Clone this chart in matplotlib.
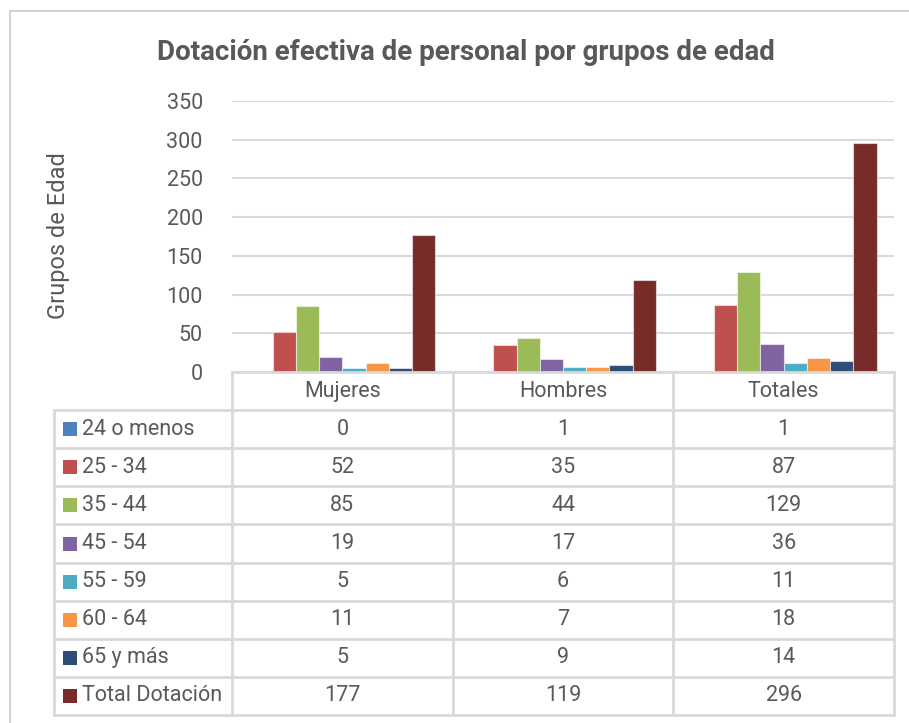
import matplotlib
matplotlib.use("Agg")
import matplotlib.pyplot as plt
from matplotlib.patches import Rectangle
import numpy as np

categories = ["Mujeres", "Hombres", "Totales"]
series = ["24 o menos", "25 - 34", "35 - 44", "45 - 54", "55 - 59", "60 - 64", "65 y más", "Total Dotación"]
mujeres = [0, 52, 85, 19, 5, 11, 5, 177]
hombres = [1, 35, 44, 17, 6, 7, 9, 119]
totales = [1, 87, 129, 36, 11, 18, 14, 296]
colors = ["#4F81BD", "#C0504D", "#9BBB59", "#8064A2", "#4BACC6", "#F79646", "#2C4D75", "#772C2A"]
yticks = [0, 50, 100, 150, 200, 250, 300, 350]

W, H = 909, 723
TXT = "#595959"
GRID = "#D9D9D9"
BODY = ["Roboto", "DejaVu Sans"]
TITLEF = ["Roboto", "DejaVu Sans"]

fig = plt.figure(figsize=(W / 100, H / 100), dpi=100)
fig.patch.set_facecolor("white")

def fx(px):
    return px / W

def fy(py):
    return 1 - py / H

# chart border (left and top visible)
fig.add_artist(Rectangle((fx(10), fy(730)), fx(920) - fx(10), fy(11) - fy(730),
                         transform=fig.transFigure, fill=False, edgecolor="#C8C8C8", lw=1.2, clip_on=False))

# bar axes
x0, x1, ytop, ybot = 232, 894, 101, 372
ax = fig.add_axes([fx(x0), fy(ybot), fx(x1) - fx(x0), fy(ytop) - fy(ybot)])
data = np.array([mujeres, hombres, totales])
n = len(series)
gap = 1.5
bw = 1.0 / (n + gap)
xc = np.arange(len(categories)) + 0.5
for i in range(n):
    off = -0.5 + gap * bw / 2 + (i + 0.5) * bw
    ax.bar(xc + off, data[:, i], width=bw, color=colors[i],
           edgecolor=(1, 1, 1, 0.55), linewidth=0.8, zorder=3)
ax.set_xlim(0, 3)
ax.set_ylim(0, 350)
ax.set_yticks(yticks)
ax.set_yticklabels([str(t) for t in yticks], family=BODY, fontsize=15.5, color=TXT)
ax.tick_params(axis="y", length=0, pad=21)
ax.set_xticks([])
for s in ax.spines.values():
    s.set_visible(False)
ax.grid(axis="y", color=GRID, lw=1.5, zorder=0)
ax.set_axisbelow(True)
ax.patch.set_alpha(0)

fig.text(fx(59), fy(236), "Grupos de Edad", rotation=90, ha="center", va="center",
         family=BODY, fontsize=17, color=TXT)
fig.text(fx(466), fy(52), "Dotación efectiva de personal por grupos de edad", ha="center", va="center",
         family=TITLEF, fontsize=20, fontweight="bold", color=TXT)

# data table axes
tl, tr, tt, tb = 54, 894, 372, 715
tax = fig.add_axes([fx(tl), fy(tb), fx(tr) - fx(tl), fy(tt) - fy(tb)])
colw = (tr - x0) / 3.0
lx = -(x0 - tl) / colw
nrows = n + 1
tax.set_xlim(lx, 3)
tax.set_ylim(nrows, 0)
tax.axis("off")
lw = 2.0
tax.plot([0, 3], [0, 0], color=GRID, lw=lw, solid_capstyle="butt", clip_on=False)
for r in range(1, nrows + 1):
    tax.plot([lx, 3], [r, r], color=GRID, lw=lw, solid_capstyle="butt", clip_on=False)
tax.plot([lx, lx], [1, nrows], color=GRID, lw=lw, clip_on=False)
for c in range(4):
    tax.plot([c, c], [0, nrows], color=GRID, lw=lw, clip_on=False)

for j, cat in enumerate(categories):
    tax.text(j + 0.5, 0.5, cat, ha="center", va="center", family=BODY, fontsize=15.5, color=TXT)
px_x = 1.0 / colw
px_y = nrows / (tb - tt)
for i, name in enumerate(series):
    yc = i + 1.5
    tax.add_patch(Rectangle((lx + (63 - tl) * px_x, yc - 7 * px_y), 14 * px_x, 14 * px_y,
                            facecolor=colors[i], edgecolor="none", clip_on=False))
    tax.text(lx + (82 - tl) * px_x, yc, name, ha="left", va="center", family=BODY, fontsize=15.5, color=TXT)
    for j in range(3):
        tax.text(j + 0.5, yc, str(data[j, i]), ha="center", va="center", family=BODY, fontsize=15.5, color=TXT)

fig.savefig("out.png", dpi=100)
